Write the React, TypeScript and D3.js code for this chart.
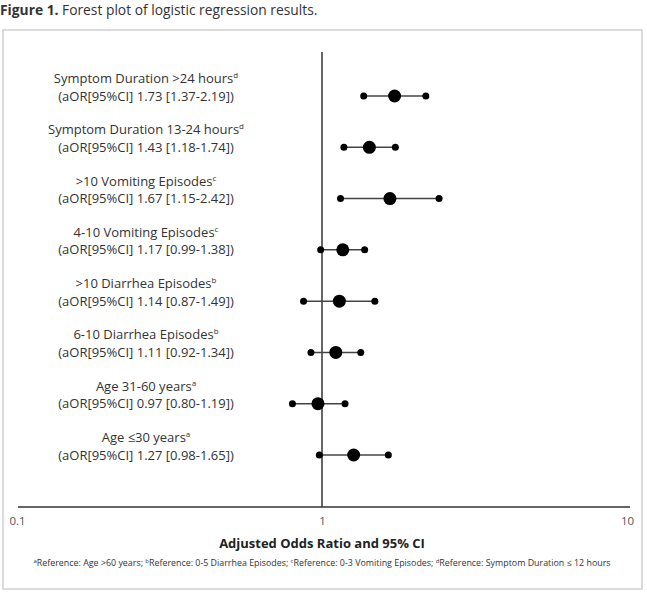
import React, { useRef, useEffect } from 'react';
import * as d3 from 'd3';

const labels = [
  'Symptom Duration >24 hours',
  'Symptom Duration 13-24 hours',
  '>10 Vomiting Episodes',
  '4-10 Vomiting Episodes',
  '>10 Diarrhea Episodes',
  '6-10 Diarrhea Episodes',
  'Age 31-60 years',
  'Age \u226430 years',
];
const refs = ['d', 'd', 'c', 'c', 'b', 'b', 'a', 'a'];
const aor = [1.73, 1.43, 1.67, 1.17, 1.14, 1.11, 0.97, 1.27];
const lower = [1.37, 1.18, 1.15, 0.99, 0.87, 0.92, 0.8, 0.98];
const upper = [2.19, 1.74, 2.42, 1.38, 1.49, 1.34, 1.19, 1.65];
const xTicks = [0.1, 1, 10];
const footnotes = [
  ['a', 'Reference: Age >60 years; '],
  ['b', 'Reference: 0-5 Diarrhea Episodes; '],
  ['c', 'Reference: 0-3 Vomiting Episodes; '],
  ['d', 'Reference: Symptom Duration \u2264 12 hours'],
];

const W = 647;
const H = 593;
const FONT = "'Open Sans', 'Noto Sans', sans-serif";

const App = () => {
  const svgRef = useRef<SVGSVGElement | null>(null);

  useEffect(() => {
    const svg = d3.select(svgRef.current);
    svg.selectAll('*').remove();

    const x = d3.scaleLog().domain([0.1, 10]).range([17, 627]);
    const y = d3
      .scalePoint<number>()
      .domain(d3.range(labels.length))
      .range([96, 455]);
    const axisY = 507;

    // title
    const title = svg
      .append('text')
      .attr('x', 0)
      .attr('y', 15)
      .attr('font-family', FONT)
      .attr('font-size', 13.8)
      .attr('fill', '#333');
    title.append('tspan').attr('font-weight', 'bold').text('Figure 1.');
    title.append('tspan').text(' Forest plot of logistic regression results.');

    // border
    svg
      .append('rect')
      .attr('x', 3)
      .attr('y', 30)
      .attr('width', 639)
      .attr('height', 559)
      .attr('fill', 'none')
      .attr('stroke', '#d0d0d0')
      .attr('stroke-width', 1.5);

    // reference line at 1
    svg
      .append('line')
      .attr('x1', x(1))
      .attr('x2', x(1))
      .attr('y1', 52)
      .attr('y2', axisY)
      .attr('stroke', '#333')
      .attr('stroke-width', 1.5);

    // x axis
    const ax = svg
      .append('g')
      .attr('transform', `translate(0,${axisY})`)
      .call(d3.axisBottom(x).tickValues(xTicks).tickSize(0).tickPadding(10).tickFormat(d3.format('')));
    ax.select('.domain').attr('stroke', '#333').attr('stroke-width', 1.5).attr('d', `M18,0H630`);
    ax.selectAll('text')
      .attr('font-family', FONT)
      .attr('font-size', 11.5)
      .attr('fill', '#555');

    svg
      .append('text')
      .attr('x', x(1))
      .attr('y', 548)
      .attr('text-anchor', 'middle')
      .attr('font-family', FONT)
      .attr('font-size', 13)
      .attr('font-weight', 'bold')
      .attr('fill', '#222')
      .text('Adjusted Odds Ratio and 95% CI');

    // footnote
    const fn = svg
      .append('text')
      .attr('x', x(1))
      .attr('y', 566)
      .attr('text-anchor', 'middle')
      .attr('font-family', FONT)
      .attr('font-size', 8.9)
      .attr('fill', '#333');
    footnotes.forEach(([s, t]) => {
      fn.append('tspan').attr('font-size', 6).attr('dy', -3).text(s);
      fn.append('tspan').attr('dy', 3).text(t);
    });

    // labels
    const lab = svg
      .append('g')
      .selectAll('g')
      .data(labels.map((l, i) => ({ l, i })))
      .join('g')
      .attr('font-family', FONT)
      .attr('font-size', 13)
      .attr('fill', '#333')
      .attr('text-anchor', 'middle');
    const t1 = lab
      .append('text')
      .attr('x', 146)
      .attr('y', (d) => y(d.i)! - 13);
    t1.append('tspan').text((d) => d.l);
    t1.append('tspan')
      .attr('font-size', 8)
      .attr('dy', -5)
      .text((d) => refs[d.i]);
    lab
      .append('text')
      .attr('x', 146)
      .attr('y', (d) => y(d.i)! + 4.5)
      .text((d) => `(aOR[95%CI] ${aor[d.i].toFixed(2)} [${lower[d.i].toFixed(2)}-${upper[d.i].toFixed(2)}])`);

    // CI whiskers and points
    const rows = svg
      .append('g')
      .selectAll('g')
      .data(aor.map((v, i) => ({ v, lo: lower[i], hi: upper[i], i })))
      .join('g');
    rows
      .append('line')
      .attr('x1', (d) => x(d.lo))
      .attr('x2', (d) => x(d.hi))
      .attr('y1', (d) => y(d.i)!)
      .attr('y2', (d) => y(d.i)!)
      .attr('stroke', '#444')
      .attr('stroke-width', 1.5);
    rows
      .selectAll('circle.end')
      .data((d) => [d.lo, d.hi].map((e) => ({ e, i: d.i })))
      .join('circle')
      .attr('class', 'end')
      .attr('cx', (d) => x(d.e))
      .attr('cy', (d) => y(d.i)!)
      .attr('r', 3.5)
      .attr('fill', '#000');
    rows
      .append('circle')
      .attr('cx', (d) => x(d.v))
      .attr('cy', (d) => y(d.i)!)
      .attr('r', 6.5)
      .attr('fill', '#000');
  }, []);

  return (
    <svg
      ref={svgRef}
      width={W}
      height={H}
      style={{ position: 'absolute', left: 0, top: 0, background: '#fff' }}
    ></svg>
  );
};

export default App;
